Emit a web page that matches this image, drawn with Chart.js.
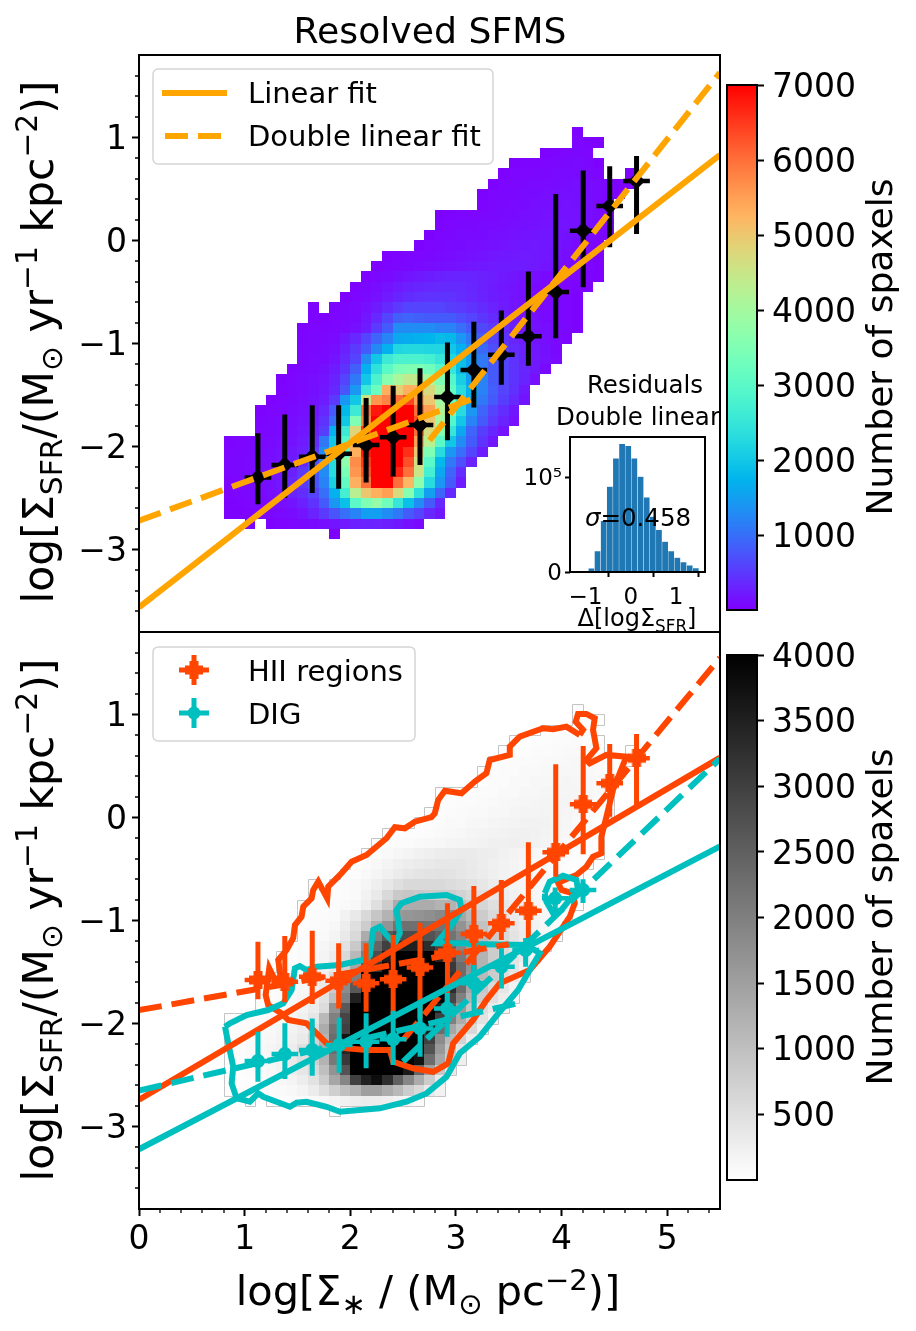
<!DOCTYPE html>
<html>
<head>
<meta charset="utf-8">
<title>Resolved SFMS</title>
<script src="https://cdn.jsdelivr.net/npm/chart.js@4"></script>
<style>
html, body { margin: 0; padding: 0; background: #fff; }
#page { position: relative; width: 916px; height: 1331px; overflow: hidden; font-family: "DejaVu Sans", sans-serif; color: #000; }
canvas { position: absolute; }
.label { position: absolute; white-space: nowrap; transform: translate(-50%, -50%); z-index: 5; }
.vert { transform: translate(-50%, -50%) rotate(-90deg); }
sub, sup { font-size: 70%; line-height: 0; }
</style>
</head>
<body>
<div id="page">
  <canvas id="sfmsChart" width="740" height="600" style="left:0;top:40px"></canvas>
  <canvas id="regionChart" width="740" height="680" style="left:0;top:620px"></canvas>
  <canvas id="rainbowBar" width="190" height="550" style="left:720px;top:70px"></canvas>
  <canvas id="grayBar" width="190" height="550" style="left:720px;top:640px"></canvas>
  <canvas id="residualChart" width="220" height="210" style="left:500px;top:425px;z-index:3"></canvas>

  <div class="label" style="left:430px;top:30px;font-size:36.2px">Resolved SFMS</div>
  <div class="label vert" style="left:38px;top:342px;font-size:42.5px">log[Σ<sub>SFR</sub>/(M<sub>⊙</sub> yr<sup>−1</sup> kpc<sup>−2</sup>)]</div>
  <div class="label vert" style="left:38px;top:920px;font-size:42.5px">log[Σ<sub>SFR</sub>/(M<sub>⊙</sub> yr<sup>−1</sup> kpc<sup>−2</sup>)]</div>
  <div class="label" style="left:428px;top:1290px;font-size:41.5px">log[Σ<sub>∗</sub> / (M<sub>⊙</sub> pc<sup>−2</sup>)]</div>
  <div class="label vert" style="left:879px;top:347px;font-size:36px">Number of spaxels</div>
  <div class="label vert" style="left:879px;top:917px;font-size:36px">Number of spaxels</div>
  <div class="label" style="left:645px;top:384px;font-size:24.5px">Residuals</div>
  <div class="label" style="left:638px;top:416px;font-size:24.5px">Double linear</div>
  <div class="label" style="left:638px;top:517px;font-size:24.5px"><i>σ</i>=0.458</div>
  <div class="label" style="left:637px;top:618px;font-size:24px">Δ[logΣ<sub>SFR</sub>]</div>
</div>

<script>
Chart.defaults.font.family = '"DejaVu Sans", sans-serif';
Chart.defaults.color = '#000';
Chart.defaults.animation = false;

// Spaxel counts per bin, lower edge in x and upper edge in y
const xBinLeft = [0.8,0.9,1.0,1.1,1.2,1.3,1.4,1.5,1.6,1.7,1.8,1.9,2.0,2.1,2.2,2.3,2.4,2.5,2.6,2.7,2.8,2.9,3.0,3.1,3.2,3.3,3.4,3.5,3.6,3.7,3.8,3.9,4.0,4.1,4.2,4.3,4.4,4.5,4.6,4.7];
const yBinTop = [1.1,1.0,0.9,0.8,0.7,0.6,0.5,0.4,0.3,0.2,0.1,0.0,-0.1,-0.2,-0.3,-0.4,-0.5,-0.6,-0.7,-0.8,-0.9,-1.0,-1.1,-1.2,-1.3,-1.4,-1.5,-1.6,-1.7,-1.8,-1.9,-2.0,-2.1,-2.2,-2.3,-2.4,-2.5,-2.6,-2.7,-2.8];
const spaxelCounts = [
  [0,0,0,0,0,0,0,0,0,0,0,0,0,0,0,0,0,0,0,0,0,0,0,0,0,0,0,0,0,0,0,0,0,30,0,0,0,0,0,0],
  [0,0,0,0,0,0,0,0,0,0,0,0,0,0,0,0,0,0,0,0,0,0,0,0,0,0,0,0,0,0,0,0,0,50,40,30,0,0,0,0],
  [0,0,0,0,0,0,0,0,0,0,0,0,0,0,0,0,0,0,0,0,0,0,0,0,0,0,0,0,0,0,30,40,50,60,50,0,0,0,0,0],
  [0,0,0,0,0,0,0,0,0,0,0,0,0,0,0,0,0,0,0,0,0,0,0,0,0,0,0,30,40,40,50,60,70,80,60,30,0,0,0,0],
  [0,0,0,0,0,0,0,0,0,0,0,0,0,0,0,0,0,0,0,0,0,0,0,0,0,0,30,50,50,60,70,80,90,100,80,50,0,0,20,0],
  [0,0,0,0,0,0,0,0,0,0,0,0,0,0,0,0,0,0,0,0,0,0,0,0,0,30,50,60,70,80,90,100,110,120,110,90,50,30,20,0],
  [0,0,0,0,0,0,0,0,0,0,0,0,0,0,0,0,0,0,0,0,0,0,0,0,30,50,60,70,90,100,110,120,130,130,110,80,40,20,0,0],
  [0,0,0,0,0,0,0,0,0,0,0,0,0,0,0,0,0,0,0,0,0,0,0,0,40,60,70,90,100,120,130,140,150,140,120,90,50,0,0,0],
  [0,0,0,0,0,0,0,0,0,0,0,0,0,0,0,0,0,0,0,0,30,40,50,50,60,70,90,100,120,130,150,160,160,150,130,90,50,0,0,0],
  [0,0,0,0,0,0,0,0,0,0,0,0,0,0,0,0,0,0,0,0,40,50,60,70,80,90,110,120,140,150,170,170,170,150,120,80,40,0,0,0],
  [0,0,0,0,0,0,0,0,0,0,0,0,0,0,0,0,0,0,0,30,50,70,80,90,100,120,130,150,170,180,190,180,160,130,100,60,30,0,0,0],
  [0,0,0,0,0,0,0,0,0,0,0,0,0,0,0,0,0,0,30,50,70,90,100,120,130,150,170,190,200,210,200,170,140,100,70,40,0,0,0,0],
  [0,0,0,0,0,0,0,0,0,0,0,0,0,0,0,30,40,50,50,70,90,110,130,150,170,190,210,220,230,220,190,160,120,90,60,30,0,0,0,0],
  [0,0,0,0,0,0,0,0,0,0,0,0,0,0,30,40,60,70,90,110,130,150,170,190,210,230,240,250,240,210,170,140,100,70,50,30,0,0,0,0],
  [0,0,0,0,0,0,0,0,0,0,0,0,0,30,60,100,140,180,220,250,280,300,320,320,290,260,220,190,160,130,100,80,60,50,40,20,0,0,0,0],
  [0,0,0,0,0,0,0,0,0,0,0,0,40,70,110,170,230,280,320,350,370,380,370,330,290,240,200,170,130,100,80,60,50,40,30,0,0,0,0,0],
  [0,0,0,0,0,0,0,0,0,0,0,30,50,90,150,230,320,380,420,440,450,440,400,350,300,250,210,170,130,100,80,60,50,30,0,0,0,0,0,0],
  [0,0,0,0,0,0,0,0,30,0,40,60,90,150,250,380,500,600,600,600,600,550,500,450,380,300,240,190,150,110,90,70,50,30,0,0,0,0,0,0],
  [0,0,0,0,0,0,0,0,40,30,50,70,100,200,350,600,850,900,850,800,800,800,700,600,480,380,290,220,170,130,100,70,50,30,0,0,0,0,0,0],
  [0,0,0,0,0,0,0,30,50,40,60,90,130,250,500,800,1300,1300,1300,1300,1200,1200,1000,800,650,500,380,280,200,160,120,90,70,30,0,0,0,0,0,0],
  [0,0,0,0,0,0,0,40,60,60,80,200,350,600,900,1200,1600,1650,1700,1750,1850,1800,1400,1100,800,600,450,330,240,180,130,90,50,0,0,0,0,0,0,0],
  [0,0,0,0,0,0,0,50,70,80,120,280,500,800,1250,1700,2200,2250,2250,2200,2200,2000,1700,1300,950,700,520,380,280,200,140,70,0,0,0,0,0,0,0,0],
  [0,0,0,0,0,0,0,60,80,100,170,350,600,1300,2000,2600,2800,2800,2800,2700,2500,2200,1900,1500,1100,800,600,440,320,220,150,80,0,0,0,0,0,0,0,0],
  [0,0,0,0,0,0,40,70,100,140,240,450,850,1700,2400,3000,3400,3500,3500,3300,2900,2500,1900,1500,1100,800,600,450,330,220,100,0,0,0,0,0,0,0,0,0],
  [0,0,0,0,0,30,50,80,120,170,300,600,1100,2000,2800,3600,4100,4400,4400,4000,3500,2900,2100,1500,1200,800,600,450,320,150,0,0,0,0,0,0,0,0,0,0],
  [0,0,0,0,0,40,60,90,130,200,350,750,1400,2600,3200,5300,4900,5300,5200,4700,4000,3100,2300,1700,1200,850,600,420,220,0,0,0,0,0,0,0,0,0,0,0],
  [0,0,0,0,30,50,70,110,160,250,500,1400,2000,4600,5600,5800,6000,6400,5500,5000,4000,3200,2300,1600,1100,800,550,350,180,0,0,0,0,0,0,0,0,0,0,0],
  [0,0,0,30,50,60,90,130,200,350,800,1800,2600,6000,6800,7000,7000,7000,6000,5500,4200,3300,2300,1400,900,600,400,200,0,0,0,0,0,0,0,0,0,0,0,0],
  [0,0,0,40,60,80,110,160,250,450,1000,2000,3500,5800,7000,7000,7000,7000,6300,5000,4000,2900,2000,1200,800,500,300,150,0,0,0,0,0,0,0,0,0,0,0,0],
  [0,0,0,50,70,90,130,190,300,550,1700,2600,4800,6500,7000,7000,7000,7000,6000,4700,3500,2500,1600,900,550,330,170,0,0,0,0,0,0,0,0,0,0,0,0,0],
  [40,50,60,70,90,120,160,230,400,1100,2000,2900,5000,7000,7000,7000,7000,7000,5500,4300,3000,2000,1300,800,450,200,0,0,0,0,0,0,0,0,0,0,0,0,0,0],
  [50,60,70,90,110,150,200,280,500,1300,2200,3000,5300,6800,7000,7000,7000,6600,5000,3500,2300,1400,1000,600,250,0,0,0,0,0,0,0,0,0,0,0,0,0,0,0],
  [50,70,90,110,130,170,240,330,700,1200,2300,3700,5700,6500,7000,7000,7000,6300,4600,3000,1800,1100,700,300,0,0,0,0,0,0,0,0,0,0,0,0,0,0,0,0,0],
  [50,70,90,120,150,200,280,500,800,1300,2300,3400,5600,6300,7000,7000,6700,6000,4500,2700,1600,900,400,0,0,0,0,0,0,0,0,0,0,0,0,0,0,0,0,0],
  [40,60,80,110,140,200,350,500,750,1200,2100,3100,5300,6000,7000,7000,6000,5200,3700,2300,1400,800,250,0,0,0,0,0,0,0,0,0,0,0,0,0,0,0,0,0],
  [40,50,70,90,120,170,300,400,600,1000,1700,2700,4300,5000,5300,5500,4700,3600,2400,1500,900,350,0,0,0,0,0,0,0,0,0,0,0,0,0,0,0,0,0,0],
  [30,40,50,70,90,120,170,280,450,800,1400,1900,3000,3500,3800,3300,2500,1900,1300,800,350,0,0,0,0,0,0,0,0,0,0,0,0,0,0,0,0,0,0,0],
  [30,30,40,50,60,80,110,170,300,500,750,1000,1200,1500,1500,1300,1100,800,600,350,200,0,0,0,0,0,0,0,0,0,0,0,0,0,0,0,0,0,0,0],
  [0,0,30,0,30,40,50,70,90,130,180,220,270,300,300,260,210,150,80,0,0,0,0,0,0,0,0,0,0,0,0,0,0,0,0,0,0,0,0,0],
  [0,0,0,0,0,0,0,0,0,0,30,0,0,0,0,0,0,0,0,0,0,0,0,0,0,0,0,0,0,0,0,0,0,0,0,0,0,0,0,0]
];

// Binned medians, upper panel
const binX = [1.126,1.38,1.64,1.89,2.15,2.406,2.66,2.92,3.17,3.43,3.686,3.945,4.205,4.456,4.71];
const binHalfWidth = 0.126;
const allY = [-2.30,-2.18,-2.10,-2.07,-1.985,-1.91,-1.79,-1.52,-1.257,-1.11,-0.93,-0.50,0.095,0.335,0.578];
const allHigh = [-1.87,-1.69,-1.60,-1.60,-1.53,-1.41,-1.24,-0.99,-0.79,-0.68,-0.30,0.45,0.68,0.72,0.82];
const allLow = [-2.56,-2.50,-2.45,-2.41,-2.35,-2.29,-2.18,-1.94,-1.62,-1.40,-1.215,-0.95,-0.455,-0.066,0.063];

// Binned medians, lower panel
const hiiY = [-1.578,-1.594,-1.545,-1.585,-1.61,-1.571,-1.455,-1.313,-1.131,-1.027,-0.905,-0.338,0.128,0.332,0.575];
const hiiHigh = [-1.206,-1.15,-1.099,-1.222,-1.222,-1.141,-1.021,-0.833,-0.665,-0.607,-0.241,0.516,0.694,0.714,0.811];
const hiiLow = [-1.765,-1.794,-1.81,-1.853,-1.885,-1.934,-1.95,-1.837,-1.61,-1.189,-1.206,-0.575,-0.357,0.008,0.089];
const digX = [1.126,1.381,1.64,1.895,2.15,2.406,2.661,2.917,3.172,3.431,3.66,3.94,4.203];
const digY = [-2.364,-2.296,-2.257,-2.209,-2.176,-2.153,-2.047,-1.853,-1.61,-1.449,-1.286,-0.785,-0.704];
const digHigh = [-2.08,-1.998,-1.95,-1.944,-1.901,-1.876,-1.788,-1.704,-1.432,-1.27,-1.17,-0.68,-0.60];
const digLow = [-2.565,-2.539,-2.507,-2.477,-2.435,-2.403,-2.322,-2.128,-1.901,-1.66,-1.45,-0.95,-0.83];

// Fits, as [x, y] end points
const allLinear = [[0,-3.56],[5.5,0.83]];
const allDoubleLow = [[0,-2.72],[3.15,-1.54]];
const allDoubleHigh = [[2.75,-1.94],[5.5,1.63]];
const hiiLinear = [[0,-2.74],[5.5,0.58]];
const hiiDoubleLow = [[0,-1.87],[3.5,-1.23]];
const hiiDoubleHigh = [[2.5,-2.16],[5.5,1.55]];
const digLinear = [[0,-3.22],[5.5,-0.28]];
const digDoubleLow = [[0,-2.65],[3.6,-1.8]];
const digDoubleHigh = [[2.5,-2.37],[5.5,0.57]];

// Density contours
const hiiContour = [[4.172,0.801],[4.046,0.882],[3.92,0.856],[3.825,0.866],[3.604,0.785],[3.51,0.688],[3.51,0.607],[3.32,0.558],[3.289,0.429],[3.179,0.348],[3.053,0.235],[2.895,0.26],[2.832,0.17],[2.80,0.04],[2.769,0.003],[2.611,-0.041],[2.517,-0.105],[2.422,-0.095],[2.343,-0.202],[2.154,-0.364],[2.012,-0.429],[1.902,-0.558],[1.791,-0.672],[1.782,-0.785],[1.697,-0.623],[1.649,-0.704],[1.634,-0.785],[1.555,-0.866],[1.539,-0.963],[1.476,-1.044],[1.46,-1.17],[1.397,-1.286],[1.318,-1.383],[1.34,-1.545],[1.287,-1.578],[1.233,-1.464],[1.199,-1.723],[1.223,-1.82],[1.35,-1.901],[1.413,-1.966],[1.586,-1.998],[1.681,-2.095],[1.776,-2.192],[1.965,-2.241],[2.154,-2.257],[2.375,-2.257],[2.406,-2.371],[2.595,-2.435],[2.785,-2.468],[2.927,-2.387],[2.974,-2.192],[3.163,-1.966],[3.289,-1.772],[3.415,-1.61],[3.699,-1.481],[3.888,-1.254],[4.078,-0.963],[4.125,-0.833],[4.109,-0.736],[3.999,-0.704],[3.967,-0.633],[4.141,-0.558],[4.235,-0.478],[4.298,-0.381],[4.377,-0.348],[4.377,-0.186],[4.425,0.008],[4.487,0.267],[4.614,0.59],[4.425,0.607],[4.267,0.526],[4.235,0.558],[4.33,0.672],[4.298,0.85],[4.314,0.963],[4.235,1.005],[4.156,1.005],[4.134,0.93],[4.203,0.85],[4.172,0.801]];
const digContour = [[0.814,-2.031],[0.861,-1.998],[1.019,-1.917],[1.223,-1.869],[1.365,-1.804],[1.445,-1.675],[1.476,-1.464],[1.523,-1.442],[1.586,-1.481],[1.681,-1.449],[1.902,-1.432],[2.122,-1.383],[2.185,-1.335],[2.217,-1.092],[2.28,-1.06],[2.343,-1.141],[2.422,-1.222],[2.469,-1.124],[2.438,-0.898],[2.485,-0.833],[2.658,-0.769],[2.911,-0.752],[3.037,-0.801],[3.053,-0.898],[2.974,-1.027],[2.816,-1.222],[3.1,-1.222],[3.132,-1.228],[3.668,-1.238],[3.794,-1.318],[3.699,-1.481],[3.589,-1.675],[3.415,-1.885],[3.226,-2.128],[3.037,-2.289],[2.911,-2.517],[2.722,-2.678],[2.533,-2.759],[2.28,-2.823],[1.902,-2.856],[1.776,-2.808],[1.586,-2.759],[1.492,-2.769],[1.429,-2.808],[1.176,-2.711],[1.129,-2.678],[1.05,-2.759],[0.924,-2.726],[0.877,-2.581],[0.892,-2.419],[0.845,-2.192],[0.814,-2.031]];
const digContourSmall = [[3.841,-0.736],[3.888,-0.623],[4.014,-0.565],[4.141,-0.607],[4.156,-0.704],[4.062,-0.817],[3.999,-0.898],[3.92,-0.93],[3.857,-0.817],[3.841,-0.736]];

// Residual histogram
const residualBins = [-0.867,-0.732,-0.596,-0.461,-0.325,-0.19,-0.054,0.081,0.217,0.352,0.488,0.623,0.759,0.894,1.03,1.165,1.301,1.436];
const residualCounts = [3900,22200,53900,90100,120000,135200,133100,120000,100700,78900,58500,44400,32000,22200,15100,10600,7000,4200];

const ORANGE = '#ffa500';
const HII_COLOR = '#ff4500';
const DIG_COLOR = '#00bfbf';

// matplotlib rainbow colormap
function rainbowColor(v) {
    const t = Math.min(1, Math.max(0, (v - 1) / 6999));
    const r = Math.min(1, Math.abs(2 * t - 0.5));
    const g = Math.sin(Math.PI * t);
    const b = Math.cos(Math.PI * t / 2);
    return `rgb(${Math.round(r * 255)},${Math.round(g * 255)},${Math.round(b * 255)})`;
}

// matplotlib gray_r colormap
function grayColor(v) {
    const t = Math.min(1, Math.max(0, (v - 1) / 3999));
    const g = Math.round((1 - t) * 255);
    return `rgb(${g},${g},${g})`;
}

function toPoints(pairs) {
    return pairs.map(p => ({ x: p[0], y: p[1] }));
}

function lineSet(pairs, color, dashed) {
    return {
        data: toPoints(pairs), showLine: true, pointRadius: 0, borderColor: color,
        borderWidth: 6, borderDash: dashed ? [23, 10] : [], clip: 0
    };
}

// One dataset with the vertical bars, one with the horizontal bars, one with the markers
function errorSets(xs, ys, highs, lows, color, marker, radius) {
    const vertical = xs.flatMap((x, i) => [{ x: x, y: lows[i] }, { x: x, y: highs[i] }, { x: x, y: null }]);
    const horizontal = xs.flatMap((x, i) => [{ x: x - binHalfWidth, y: ys[i] }, { x: x + binHalfWidth, y: ys[i] }, { x: x, y: null }]);
    return [
        { data: xs.map((x, i) => ({ x: x, y: ys[i] })), showLine: false, pointStyle: marker, pointRadius: radius, backgroundColor: color, borderColor: color, borderWidth: 0, clip: 0 },
        { data: vertical, showLine: true, pointRadius: 0, borderColor: color, borderWidth: 5, spanGaps: false, clip: 0 },
        { data: horizontal, showLine: true, pointRadius: 0, borderColor: color, borderWidth: 4.5, spanGaps: false, clip: 0 }
    ];
}

// Filled plus used for the HII markers
function plusMarker(color, size, arm) {
    const c = document.createElement('canvas');
    c.width = size;
    c.height = size;
    const g = c.getContext('2d');
    g.fillStyle = color;
    g.fillRect((size - arm) / 2, 0, arm, size);
    g.fillRect(0, (size - arm) / 2, size, arm);
    return c;
}

// 2D histogram, cells placed through the chart's scales
function heatmapPlugin(colorFor, outline) {
    return {
        id: 'heatmap',
        beforeDatasetsDraw(chart) {
            const ctx = chart.ctx, xs = chart.scales.x, ys = chart.scales.y;
            const left = c => Math.round(xs.getPixelForValue(xBinLeft[c]));
            const right = c => Math.round(xs.getPixelForValue(xBinLeft[c] + 0.1));
            const top = r => Math.round(ys.getPixelForValue(yBinTop[r]));
            const bottom = r => Math.round(ys.getPixelForValue(yBinTop[r] - 0.1));
            const filled = (r, c) => r >= 0 && r < spaxelCounts.length && c >= 0 && c < xBinLeft.length && spaxelCounts[r][c] > 0;
            ctx.save();
            spaxelCounts.forEach((row, r) => row.forEach((v, c) => {
                if (v <= 0) return;
                ctx.fillStyle = colorFor(v);
                ctx.fillRect(left(c), top(r), right(c) - left(c), bottom(r) - top(r));
            }));
            if (outline) {
                ctx.strokeStyle = outline;
                ctx.lineWidth = 1;
                ctx.beginPath();
                spaxelCounts.forEach((row, r) => row.forEach((v, c) => {
                    if (v <= 0) return;
                    const x0 = left(c) + 0.5, x1 = right(c) + 0.5, y0 = top(r) + 0.5, y1 = bottom(r) + 0.5;
                    if (!filled(r - 1, c)) { ctx.moveTo(x0, y0); ctx.lineTo(x1, y0); }
                    if (!filled(r + 1, c)) { ctx.moveTo(x0, y1); ctx.lineTo(x1, y1); }
                    if (!filled(r, c - 1)) { ctx.moveTo(x0, y0); ctx.lineTo(x0, y1); }
                    if (!filled(r, c + 1)) { ctx.moveTo(x1, y0); ctx.lineTo(x1, y1); }
                }));
                ctx.stroke();
            }
            ctx.restore();
        }
    };
}

// Axes box and the minor ticks
function framePlugin(minorX, minorY) {
    return {
        id: 'frame',
        afterDraw(chart) {
            const ctx = chart.ctx, a = chart.chartArea;
            ctx.save();
            ctx.strokeStyle = '#000';
            ctx.lineWidth = 1.3;
            ctx.beginPath();
            minorY.forEach(v => {
                const p = Math.round(chart.scales.y.getPixelForValue(v));
                ctx.moveTo(a.left - 4, p);
                ctx.lineTo(a.left, p);
            });
            minorX.forEach(v => {
                const p = Math.round(chart.scales.x.getPixelForValue(v));
                ctx.moveTo(p, a.bottom);
                ctx.lineTo(p, a.bottom + 4);
            });
            ctx.stroke();
            ctx.lineWidth = 2;
            ctx.strokeRect(a.left, a.top, a.right - a.left, a.bottom - a.top);
            ctx.restore();
        }
    };
}

// Gradient of a colorbar, one row of pixels at a time
function colorbarPlugin(colorFor) {
    return {
        id: 'colorbar',
        beforeDraw(chart) {
            const ctx = chart.ctx, a = chart.chartArea, ys = chart.scales.y;
            for (let p = Math.floor(a.top); p < a.bottom; p++) {
                ctx.fillStyle = colorFor(ys.getValueForPixel(p + 0.5));
                ctx.fillRect(a.left, p, a.right - a.left, 1);
            }
        }
    };
}

function legendBox(ctx, x, y, w, h) {
    ctx.fillStyle = 'rgba(255,255,255,0.85)';
    ctx.strokeStyle = '#d5d5d5';
    ctx.lineWidth = 1.5;
    ctx.beginPath();
    ctx.roundRect(x, y, w, h, 5);
    ctx.fill();
    ctx.stroke();
}

function legendText(ctx, text, x, y) {
    ctx.fillStyle = '#000';
    ctx.font = '29px "DejaVu Sans"';
    ctx.textBaseline = 'middle';
    ctx.fillText(text, x, y);
}

const fitLegend = {
    id: 'fitLegend',
    afterDatasetsDraw(chart) {
        const ctx = chart.ctx, a = chart.chartArea;
        const ox = a.left, oy = a.top;
        ctx.save();
        legendBox(ctx, ox + 14, oy + 14, 340, 95);
        ctx.strokeStyle = ORANGE;
        ctx.lineWidth = 6;
        ctx.beginPath();
        ctx.moveTo(ox + 23, oy + 38);
        ctx.lineTo(ox + 88, oy + 38);
        ctx.stroke();
        ctx.setLineDash([23, 10]);
        ctx.beginPath();
        ctx.moveTo(ox + 26, oy + 81);
        ctx.lineTo(ox + 84, oy + 81);
        ctx.stroke();
        ctx.setLineDash([]);
        legendText(ctx, 'Linear fit', ox + 109, oy + 40);
        legendText(ctx, 'Double linear fit', ox + 109, oy + 83);
        ctx.restore();
    }
};

const regionLegend = {
    id: 'regionLegend',
    afterDatasetsDraw(chart) {
        const ctx = chart.ctx, a = chart.chartArea;
        const ox = a.left, oy = a.top;
        const sample = (cy, color) => {
            ctx.fillStyle = color;
            ctx.fillRect(ox + 40, oy + cy - 2.5, 30, 5);
            ctx.fillRect(ox + 52.5, oy + cy - 15, 5, 30);
        };
        ctx.save();
        legendBox(ctx, ox + 14, oy + 15, 262, 94);
        sample(38, HII_COLOR);
        ctx.drawImage(plusMarker(HII_COLOR, 18, 9), ox + 46, oy + 29);
        sample(81, DIG_COLOR);
        ctx.fillStyle = DIG_COLOR;
        ctx.beginPath();
        ctx.arc(ox + 55, oy + 81, 6.5, 0, Math.PI * 2);
        ctx.fill();
        legendText(ctx, 'HII regions', ox + 109, oy + 41);
        legendText(ctx, 'DIG', ox + 109, oy + 84);
        ctx.restore();
    }
};

const minorXTicks = [0.2,0.4,0.6,0.8,1.2,1.4,1.6,1.8,2.2,2.4,2.6,2.8,3.2,3.4,3.6,3.8,4.2,4.4,4.6,4.8,5.2,5.4];
const minorYTicks = [-3.6,-3.4,-3.2,-2.8,-2.6,-2.4,-2.2,-1.8,-1.6,-1.4,-1.2,-0.8,-0.6,-0.4,-0.2,0.2,0.4,0.6,0.8,1.2,1.4,1.6];

function axisTicks(fontSize, tickLen, padding, labelOffset) {
    return {
        grid: { drawOnChartArea: false, tickLength: tickLen, tickWidth: 2, tickColor: '#000' },
        border: { display: false },
        ticks: {
            autoSkip: false, maxRotation: 0, minRotation: 0, padding: padding, labelOffset: labelOffset || 0,
            color: '#000', font: { size: fontSize },
            callback: v => String(v).replace('-', '−')
        }
    };
}

// Fixed box for an axis, without the extra room Chart.js keeps for its end labels
function fixAxisBox(scale, width, height) {
    if (width) scale.width = width;
    if (height) scale.height = height;
    scale.paddingTop = 0;
    scale.paddingBottom = 0;
    scale.paddingLeft = 0;
    scale.paddingRight = 0;
}

// Upper panel: all spaxels
new Chart(document.getElementById('sfmsChart'), {
    type: 'scatter',
    data: {
        datasets: [
            lineSet(allLinear, ORANGE, false),
            lineSet(allDoubleLow, ORANGE, true),
            lineSet(allDoubleHigh, ORANGE, true),
            ...errorSets(binX, allY, allHigh, allLow, '#000', 'rectRot', 8.5)
        ]
    },
    options: {
        responsive: false,
        events: [],
        layout: { autoPadding: false, padding: { top: 15, bottom: 8, right: 20 } },
        plugins: { legend: { display: false }, tooltip: { enabled: false } },
        scales: {
            x: { type: 'linear', display: false, min: 0, max: 5.5 },
            y: Object.assign({ type: 'linear', min: -3.8, max: 1.8,
                afterBuildTicks: s => { s.ticks = [-3, -2, -1, 0, 1].map(v => ({ value: v })); },
                afterFit: s => fixAxisBox(s, 139) }, axisTicks(33, 7, 5, 3))
        }
    },
    plugins: [heatmapPlugin(rainbowColor), framePlugin([], minorYTicks), fitLegend]
});

// Lower panel: HII regions and DIG
new Chart(document.getElementById('regionChart'), {
    type: 'scatter',
    data: {
        datasets: [
            lineSet(digLinear, DIG_COLOR, false),
            lineSet(digDoubleLow, DIG_COLOR, true),
            lineSet(digDoubleHigh, DIG_COLOR, true),
            ...errorSets(digX, digY, digHigh, digLow, DIG_COLOR, 'circle', 7),
            lineSet(hiiLinear, HII_COLOR, false),
            lineSet(hiiDoubleLow, HII_COLOR, true),
            lineSet(hiiDoubleHigh, HII_COLOR, true),
            ...errorSets(binX, hiiY, hiiHigh, hiiLow, HII_COLOR, plusMarker(HII_COLOR, 18, 9), 9),
            lineSet(digContour, DIG_COLOR, false),
            lineSet(digContourSmall, DIG_COLOR, false),
            lineSet(hiiContour, HII_COLOR, false)
        ]
    },
    options: {
        responsive: false,
        events: [],
        layout: { autoPadding: false, padding: { top: 12, right: 20, bottom: 0 } },
        plugins: { legend: { display: false }, tooltip: { enabled: false } },
        scales: {
            x: Object.assign({ type: 'linear', min: 0, max: 5.5,
                afterBuildTicks: s => { s.ticks = [0, 1, 2, 3, 4, 5].map(v => ({ value: v })); },
                afterFit: s => fixAxisBox(s, 0, 91) }, axisTicks(33, 7, 5)),
            y: Object.assign({ type: 'linear', min: -3.8, max: 1.8,
                afterBuildTicks: s => { s.ticks = [-3, -2, -1, 0, 1].map(v => ({ value: v })); },
                afterFit: s => fixAxisBox(s, 139) }, axisTicks(33, 7, 5, 3))
        }
    },
    plugins: [heatmapPlugin(grayColor, '#c4c4c4'), framePlugin(minorXTicks, minorYTicks), regionLegend]
});

function colorbarChart(id, vmax, tickValues, colorFor) {
    new Chart(document.getElementById(id), {
        type: 'scatter',
        data: { datasets: [] },
        options: {
            responsive: false,
            events: [],
            layout: { autoPadding: false, padding: { top: 15, bottom: 10, left: 7 } },
            plugins: { legend: { display: false }, tooltip: { enabled: false } },
            scales: {
                x: { type: 'linear', display: false, min: 0, max: 1 },
                y: Object.assign({ type: 'linear', position: 'right', min: 1, max: vmax,
                    afterBuildTicks: s => { s.ticks = tickValues.map(v => ({ value: v })); },
                    afterFit: s => fixAxisBox(s, 153) }, axisTicks(33, 7, 8, 3))
            }
        },
        plugins: [colorbarPlugin(colorFor), framePlugin([], [])]
    });
}

colorbarChart('rainbowBar', 7000, [1000, 2000, 3000, 4000, 5000, 6000, 7000], rainbowColor);
colorbarChart('grayBar', 4000, [500, 1000, 1500, 2000, 2500, 3000, 3500, 4000], grayColor);

// Inset with the residuals of the double linear fit
new Chart(document.getElementById('residualChart'), {
    type: 'bar',
    data: {
        datasets: [{
            data: residualBins.map((x, i) => ({ x: x, y: residualCounts[i] })),
            backgroundColor: '#1f77b4',
            borderColor: 'rgba(255,255,255,0.2)',
            borderWidth: 0.5,
            barPercentage: 1,
            categoryPercentage: 1
        }]
    },
    options: {
        responsive: false,
        events: [],
        layout: { autoPadding: false, padding: { top: 12, right: 15, bottom: 0 } },
        plugins: { legend: { display: false }, tooltip: { enabled: false } },
        scales: {
            x: Object.assign({ type: 'linear', min: -1.34, max: 1.64, offset: false,
                afterBuildTicks: s => { s.ticks = [-1, 0, 1].map(v => ({ value: v })); },
                afterFit: s => fixAxisBox(s, 0, 63) }, axisTicks(23, 5, 7)),
            y: (function () {
                const axis = Object.assign({ type: 'linear', min: 0, max: 142500,
                    afterBuildTicks: s => { s.ticks = [0, 100000].map(v => ({ value: v })); },
                    afterFit: s => fixAxisBox(s, 70) }, axisTicks(23, 5, 3, 2));
                axis.ticks.callback = v => (v === 0 ? '0' : '10⁵');
                return axis;
            })()
        }
    },
    plugins: [framePlugin([], [])]
});
</script>
</body>
</html>
